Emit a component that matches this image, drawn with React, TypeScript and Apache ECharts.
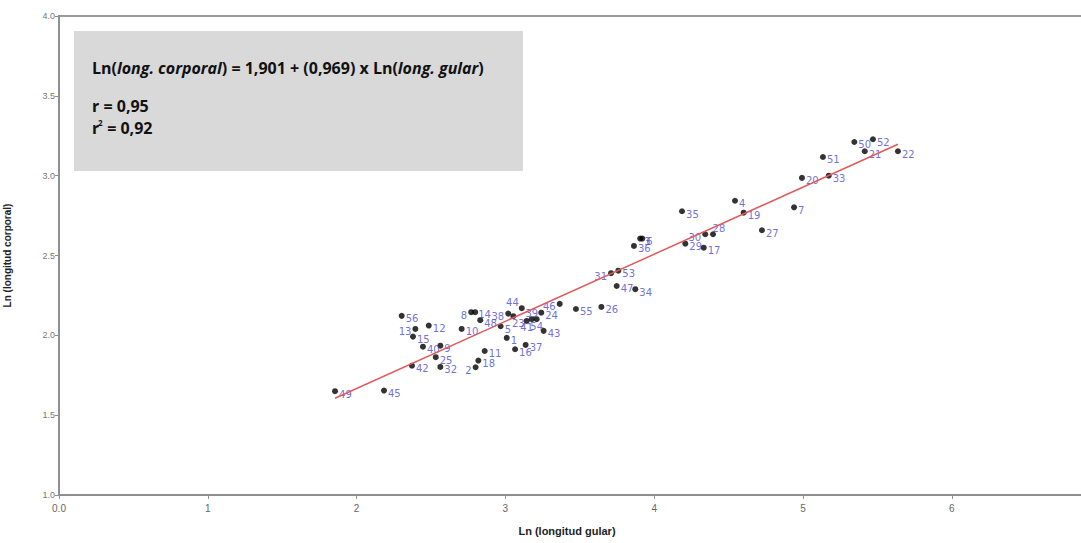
import React, { useEffect, useRef } from "react";
import * as echarts from "echarts";

// Case numbers, Ln(longitud gular), Ln(longitud corporal)
const ids = [1, 2, 3, 4, 5, 6, 7, 8, 9, 10, 11, 12, 13, 14, 15, 16, 17, 18, 19, 20, 21, 22, 23, 24, 25, 26, 27, 28, 29, 30, 31, 32, 33, 34, 35, 36, 37, 38, 39, 40, 41, 42, 43, 44, 45, 46, 47, 48, 49, 50, 51, 52, 53, 54, 55, 56];
const lnGular = [3.009, 2.800, 3.906, 4.543, 2.968, 3.920, 4.940, 2.770, 2.563, 2.706, 2.861, 2.485, 2.395, 2.797, 2.379, 3.065, 4.333, 2.818, 4.601, 4.993, 5.415, 5.638, 3.053, 3.241, 2.532, 3.645, 4.724, 4.395, 4.209, 4.343, 3.710, 2.563, 5.173, 3.873, 4.187, 3.864, 3.136, 3.019, 3.177, 2.446, 3.143, 2.372, 3.257, 3.110, 2.184, 3.365, 3.748, 2.831, 1.855, 5.345, 5.134, 5.470, 3.759, 3.210, 3.474, 2.303];
const lnCorporal = [1.984, 1.800, 2.606, 2.843, 2.057, 2.606, 2.802, 2.145, 1.935, 2.040, 1.902, 2.061, 2.040, 2.145, 1.992, 1.913, 2.549, 1.842, 2.768, 2.986, 3.153, 3.153, 2.120, 2.142, 1.863, 2.178, 2.658, 2.633, 2.574, 2.633, 2.389, 1.802, 3.000, 2.289, 2.777, 2.560, 1.940, 2.136, 2.101, 1.929, 2.090, 1.810, 2.028, 2.170, 1.654, 2.197, 2.309, 2.095, 1.650, 3.211, 3.117, 3.228, 2.405, 2.101, 2.165, 2.122];

// Fitted line end points (x, y)
const fitLine = [
  [1.855, 1.606],
  [5.638, 3.197],
];

const xTicks = [0, 1, 2, 3, 4, 5, 6, 7];
const xTickLabels = ["0.0", "1", "2", "3", "4", "5", "6", ""];
const yTicks = [1.0, 1.5, 2.0, 2.5, 3.0, 3.5, 4.0];

const equationText = ["Ln(", "long. corporal", ") = 1,901 + (0,969) x Ln(", "long. gular", ")"];
const rText = "r = 0,95";
const r2Text = " = 0,92";

const labelLeft = [8, 38, 46, 30, 31, 2, 13];
const labelTop = [39];
const labelBottom = [41, 54];

function labelFor(id: number) {
  if (labelLeft.includes(id)) return { position: "left", distance: 1, offset: [0, 3] };
  if (labelTop.includes(id)) return { position: "top", distance: 0, offset: [0, 2] };
  if (labelBottom.includes(id)) return { position: "bottom", distance: 0, offset: [0, -1] };
  if (id === 44) return { position: "left", distance: 0, offset: [0, -6] };
  if (id === 28) return { position: "top", distance: 0, offset: [6, 2] };
  if (id === 23) return { position: "bottom", distance: 0, offset: [5, -1] };
  if (id === 14) return { position: "right", distance: 0, offset: [0, 2] };
  return { position: "right", distance: 1, offset: [0, 3] };
}

export default function App() {
  const ref = useRef<HTMLDivElement>(null);
  useEffect(() => {
    if (!ref.current) return;
    const chart = echarts.init(ref.current, null, { renderer: "svg" });
    const points = ids.map((id, i) => ({
      value: [lnGular[i], lnCorporal[i]],
      name: String(id),
      label: labelFor(id),
    }));
    const eqRich = equationText
      .map((t, i) => (i % 2 === 1 ? `{i|${t}}` : `{b|${t}}`))
      .join("");
    const boxFont = "'Open Sans', sans-serif";
    chart.setOption({
      animation: false,
      backgroundColor: "#ffffff",
      grid: {
        left: 59,
        top: 16,
        bottom: 48,
        right: -19.6,
        containLabel: false,
        outerBoundsMode: "none",
        show: true,
        borderColor: "#999999",
        borderWidth: 2,
      },
      xAxis: {
        type: "value",
        min: xTicks[0],
        max: xTicks[xTicks.length - 1],
        interval: 1,
        splitLine: { show: false },
        axisLine: { show: true, lineStyle: { color: "#8f8f8f", width: 2 } },
        axisTick: { show: true, length: 4, lineStyle: { color: "#8f8f8f" } },
        axisLabel: {
          color: "#666",
          fontSize: 10,
          fontFamily: "Liberation Sans Narrow, Liberation Sans, sans-serif",
          margin: 8,
          formatter: (v: number) => xTickLabels[xTicks.indexOf(v)] ?? "",
        },
      },
      yAxis: {
        type: "value",
        min: yTicks[0],
        max: yTicks[yTicks.length - 1],
        interval: 0.5,
        splitLine: { show: false },
        axisLine: { show: true, lineStyle: { color: "#8f8f8f", width: 2 } },
        axisTick: { show: true, length: 4, lineStyle: { color: "#8f8f8f" } },
        axisLabel: {
          color: "#777",
          fontSize: 9,
          fontFamily: "Liberation Sans Narrow, Liberation Sans, sans-serif",
          margin: 4,
          formatter: (v: number) => v.toFixed(1),
        },
        name: "Ln (longitud corporal)",
        nameLocation: "middle",
        nameGap: 47,
        nameRotate: 90,
        nameTextStyle: {
          color: "#222",
          fontSize: 10,
          fontWeight: "bold",
          fontFamily: "Liberation Sans, Arial, sans-serif",
        },
      },
      graphic: [
        {
          type: "rect",
          shape: { x: 74, y: 31, width: 449, height: 140 },
          style: { fill: "#d9d9d9" },
          z: 10,
        },
        {
          type: "text",
          x: 92,
          y: 68,
          z: 11,
          style: {
            text: eqRich,
            verticalAlign: "middle",
            rich: {
              b: { fontFamily: boxFont, fontWeight: "bold", fontSize: 16, fill: "#111" },
              i: { fontFamily: boxFont, fontWeight: "bold", fontStyle: "italic", fontSize: 16, fill: "#111" },
            },
          },
        },
        {
          type: "text",
          x: 92,
          y: 106,
          z: 11,
          style: { text: rText, verticalAlign: "middle", font: `bold 16px ${boxFont}`, fill: "#111" },
        },
        {
          type: "text",
          x: 92,
          y: 128,
          z: 11,
          style: { text: "r", verticalAlign: "middle", font: `bold 16px ${boxFont}`, fill: "#111" },
        },
        {
          type: "text",
          x: 98,
          y: 122,
          z: 11,
          style: { text: "2", verticalAlign: "middle", font: `bold 8px ${boxFont}`, fill: "#111" },
        },
        {
          type: "text",
          x: 103,
          y: 128,
          z: 11,
          style: { text: r2Text, verticalAlign: "middle", font: `bold 16px ${boxFont}`, fill: "#111" },
        },
        {
          type: "text",
          x: 567,
          y: 531,
          z: 11,
          style: {
            text: "Ln (longitud gular)",
            align: "center",
            verticalAlign: "middle",
            font: "bold 11px 'Liberation Sans Narrow', 'Liberation Sans', sans-serif",
            fill: "#222",
          },
        },
      ],
      series: [
        {
          type: "scatter",
          data: points,
          symbol: "circle",
          symbolSize: 6,
          itemStyle: { color: "#000000" },
          label: {
            show: true,
            formatter: "{b}",
            color: "#4a4ad0",
            fontSize: 10,
            fontFamily: "DejaVu Sans, Tahoma, sans-serif",
          },
          z: 3,
        },
        {
          type: "line",
          data: fitLine,
          symbol: "none",
          lineStyle: { color: "#e05a5a", width: 1.5 },
          z: 4,
          silent: true,
        },
      ],
    });
    return () => chart.dispose();
  }, []);
  return (
    <div
      ref={ref}
      style={{ position: "fixed", left: 0, top: 0, width: 1081, height: 543 }}
    />
  );
}
